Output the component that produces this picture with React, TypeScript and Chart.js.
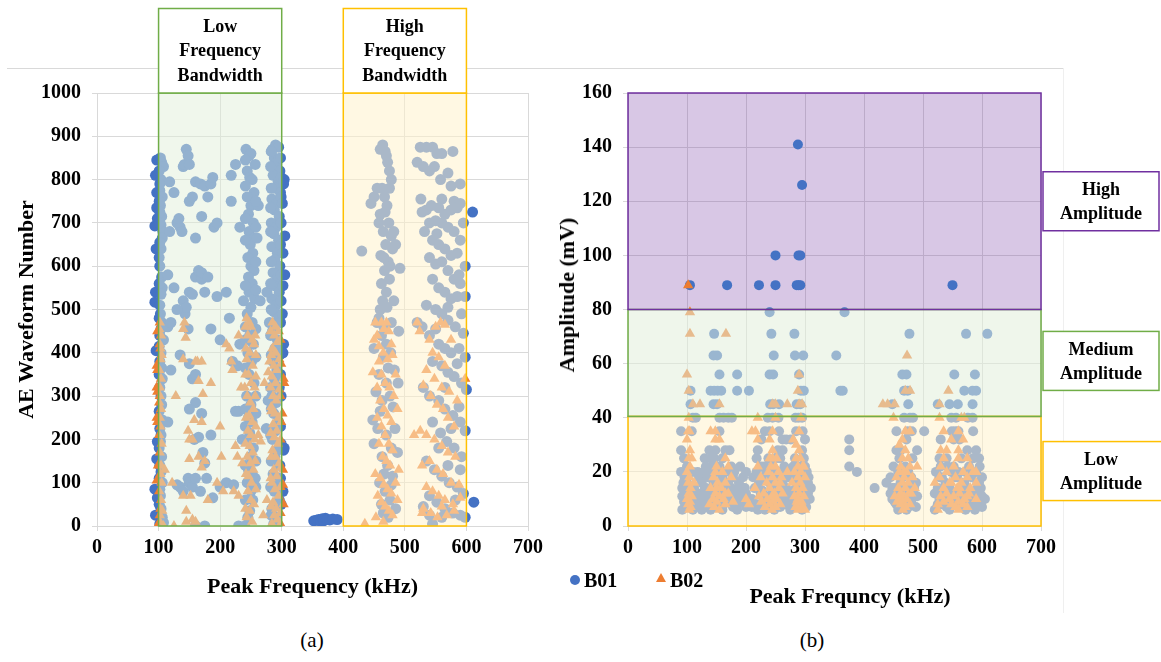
import React, { useEffect, useRef } from "react";
import { Chart, registerables } from "chart.js";

Chart.register(...registerables);

const SERIF = "'Liberation Serif', 'Times New Roman', Times, serif";

// ---------------- Chart (a): AE waveform number vs peak frequency ----------------
const b01A: [number, number][] = [
  // ~100 kHz column
  [95, 810], [94, 693], [96, 640], [95, 540], [94, 517], [94, 85], [95, 25], [97, 845], [97, 770], [97, 735], [98, 710], [96, 405], [97, 155], [98, 195], [98, 65],
  [103, 850], [105, 840], [108, 830], [104, 800], [102, 775], [106, 760], [103, 740], [105, 715], [104, 695], [107, 680], [106, 665], [104, 640], [105, 575], [106, 550],
  [104, 535], [103, 490], [105, 470], [104, 455], [108, 430], [104, 400], [105, 365], [106, 340], [104, 300], [105, 280], [106, 245], [104, 210], [103, 195], [105, 160],
  [104, 125], [106, 100], [103, 70], [104, 40], [106, 20], [108, 8],
  [101, 820], [102, 790], [101, 750], [102, 725], [101, 700], [102, 655], [101, 620], [102, 600], [101, 560], [102, 510], [101, 480], [102, 440], [101, 415], [102, 380],
  [101, 350], [102, 320], [101, 265], [102, 225], [101, 180], [102, 140], [101, 110], [102, 85], [101, 50], [102, 5],
  // scattered 110-235 kHz
  [118, 795], [125, 770], [130, 700], [135, 690], [133, 710], [138, 680], [140, 830], [142, 835], [145, 870], [148, 855], [150, 835], [150, 750], [155, 760], [160, 665],
  [160, 795], [168, 790], [170, 715], [175, 785], [180, 760], [185, 790], [188, 805], [190, 690], [195, 700], [218, 750], [225, 835], [232, 690], [218, 810],
  [115, 460], [118, 680], [120, 470], [115, 580], [125, 550], [140, 520], [143, 490], [145, 505], [150, 540], [155, 535], [160, 575], [165, 590], [170, 570], [170, 585],
  [175, 540], [180, 575], [185, 455], [195, 530], [200, 430], [210, 540], [220, 380], [228, 370], [230, 265], [225, 265], [232, 420], [215, 480],
  [130, 95], [135, 90], [140, 80], [148, 110], [150, 100], [155, 90], [160, 110], [168, 80], [172, 170], [175, 145], [178, 110], [185, 210], [188, 65], [200, 90],
  [210, 100], [222, 95], [230, 0], [240, 0], [155, 340], [160, 350], [160, 285], [150, 270], [170, 260], [158, 200], [165, 205], [150, 375], [148, 455], [120, 360],
  [115, 240], [130, 500], [160, 0], [175, 0], [135, 395],
  // 240-265 kHz column
  [242, 870], [247, 855], [250, 860], [244, 820], [248, 805], [252, 800], [255, 770], [244, 760], [250, 740], [246, 720], [254, 700], [247, 680], [256, 665], [249, 650],
  [253, 630], [245, 620], [250, 600], [255, 590], [246, 575], [252, 560], [247, 540], [256, 525], [250, 505], [244, 490], [252, 470], [248, 440], [254, 420], [245, 400],
  [251, 380], [247, 350], [255, 330], [243, 300], [250, 280], [246, 250], [252, 240], [248, 215], [244, 200], [254, 180], [249, 160], [246, 130], [252, 120], [257, 110],
  [244, 100], [250, 80], [253, 60], [248, 35], [245, 20], [262, 740], [260, 665], [265, 520], [238, 520], [236, 200],
  [241, 845], [257, 835], [241, 785], [258, 750], [241, 710], [258, 690], [241, 660], [258, 610], [241, 555], [258, 545], [241, 460], [258, 455], [241, 430], [258, 390],
  [241, 365], [258, 300], [241, 270], [258, 260], [241, 230], [258, 150], [241, 140], [258, 90], [241, 60],
  // 280-300 kHz column
  [285, 870], [290, 880], [295, 875], [288, 850], [292, 840], [297, 820], [286, 810], [294, 795], [290, 780], [298, 770], [284, 755], [292, 745], [288, 730], [296, 715],
  [283, 700], [291, 690], [287, 675], [295, 660], [284, 645], [293, 630], [289, 615], [297, 600], [286, 585], [292, 570], [288, 555], [296, 540], [284, 525], [291, 510],
  [287, 495], [295, 480], [290, 465], [285, 450], [293, 430], [289, 410], [297, 395], [286, 380], [292, 360], [288, 340], [296, 320], [284, 300], [291, 285], [287, 260],
  [295, 240], [290, 220], [285, 200], [293, 175], [289, 160], [297, 140], [286, 120], [292, 100], [288, 80], [296, 60], [284, 40], [291, 20], [287, 5], [280, 470],
  [278, 290], [276, 540], [275, 225],
  [283, 865], [298, 850], [282, 830], [299, 805], [283, 780], [299, 760], [282, 735], [299, 700], [282, 680], [298, 650], [283, 610], [299, 580], [282, 560], [299, 520],
  [283, 500], [298, 470], [282, 440], [299, 420], [283, 395], [298, 350], [282, 320], [299, 300], [283, 270], [298, 230], [282, 210], [299, 190], [283, 150], [298, 110],
  [282, 90], [299, 50], [283, 25],
  [304, 800], [303, 790], [305, 670], [305, 580], [302, 555], [303, 420], [302, 400], [304, 180], [303, 175], [302, 80], [301, 745], [302, 630], [301, 490],
  // 350-390 kHz cluster
  [352, 12], [356, 13], [360, 15], [363, 11], [366, 17], [368, 12], [371, 18], [374, 15], [378, 14], [383, 16], [390, 15],
  // 440-490 kHz column
  [430, 635], [445, 745], [450, 760], [455, 780], [458, 700], [460, 870], [464, 880], [468, 865], [470, 855], [472, 840], [475, 820], [478, 800], [463, 780], [467, 760],
  [471, 740], [460, 720], [474, 700], [465, 680], [478, 670], [482, 680], [469, 650], [485, 650], [461, 625], [473, 610], [467, 590], [476, 600], [462, 560], [470, 540],
  [464, 520], [471, 505], [458, 480], [455, 470], [478, 470], [490, 450], [462, 440], [470, 420], [477, 400], [450, 410], [465, 390], [483, 360], [458, 350], [470, 330],
  [476, 300], [489, 330], [453, 310], [463, 290], [481, 275], [448, 245], [456, 225], [470, 210], [478, 180], [488, 170], [450, 190], [463, 160], [472, 140], [480, 115],
  [459, 100], [468, 80], [476, 60], [485, 40], [465, 30], [473, 20], [492, 595],
  [475, 780], [468, 725], [480, 640], [466, 620], [475, 570], [460, 500], [482, 520], [466, 460], [473, 365], [460, 265], [484, 225], [466, 120], [478, 95], [462, 50],
  // 520-600 kHz column
  [525, 875], [535, 875], [545, 875], [552, 860], [560, 860], [578, 865], [520, 840], [530, 830], [540, 820], [548, 830], [558, 800], [570, 815], [575, 785], [580, 750],
  [590, 745], [526, 755], [535, 730], [543, 740], [555, 735], [565, 720], [575, 730], [585, 735], [528, 725], [540, 700], [550, 705], [560, 700], [570, 690], [580, 680],
  [590, 660], [532, 680], [545, 660], [555, 650], [565, 640], [575, 625], [585, 630], [540, 620], [550, 605], [560, 610], [570, 590], [580, 570], [590, 560], [545, 570],
  [555, 550], [565, 540], [575, 525], [585, 530], [598, 530], [535, 510], [550, 500], [560, 490], [570, 475], [582, 460], [595, 445], [520, 470], [528, 460], [540, 440],
  [555, 420], [565, 410], [575, 400], [588, 410], [598, 390], [545, 380], [560, 370], [570, 355], [580, 345], [592, 330], [600, 315], [530, 320], [540, 300], [555, 290],
  [565, 270], [578, 255], [590, 240], [598, 220], [545, 240], [558, 215], [568, 195], [580, 180], [592, 160], [535, 150], [548, 130], [560, 115], [572, 100], [585, 90],
  [595, 75], [540, 70], [552, 55], [565, 40], [578, 30], [590, 25], [598, 20], [530, 45], [545, 5], [560, 20],
  [590, 790], [560, 755], [595, 700], [552, 675], [598, 600], [588, 580], [570, 505], [592, 490], [550, 455], [585, 375], [565, 320], [588, 275], [575, 225], [555, 180],
  [590, 130], [570, 140], [582, 60], [540, 25],
  [610, 725], [612, 55],
];

const b02A: [number, number][] = [
  [98, 450], [97, 370], [98, 360], [97, 320], [98, 310], [97, 250], [98, 240], [97, 105], [98, 0], [99, 140],
  [102, 470], [104, 440], [103, 410], [105, 395], [103, 385], [104, 340], [102, 300], [104, 270], [103, 230], [105, 190], [104, 140], [103, 120], [105, 100], [104, 60],
  [103, 40], [102, 10], [108, 0], [110, 130], [106, 35],
  [101, 455], [102, 420], [101, 360], [102, 320], [101, 285], [102, 250], [101, 210], [102, 170], [101, 80], [102, 25],
  [122, 100], [125, 0], [128, 300], [140, 385], [140, 455], [142, 470], [144, 435], [148, 220], [150, 200], [150, 155], [152, 70], [155, 200], [158, 245], [160, 380],
  [163, 380], [165, 335], [170, 380], [172, 305], [170, 240], [165, 160], [170, 135], [160, 10], [155, 15], [145, 35], [145, 10], [140, 70], [175, 150], [180, 60],
  [185, 330], [195, 100], [200, 230], [202, 160], [205, 80], [210, 420], [215, 410], [218, 380], [220, 360], [225, 185], [228, 160], [222, 80], [230, 440], [234, 320],
  [236, 145], [230, 70],
  [243, 480], [247, 470], [250, 460], [245, 440], [252, 430], [255, 420], [248, 400], [243, 385], [253, 370], [246, 350], [250, 330], [256, 320], [244, 300], [249, 285],
  [254, 270], [247, 255], [252, 240], [245, 220], [250, 210], [256, 200], [248, 185], [253, 170], [244, 160], [249, 145], [254, 130], [246, 115], [251, 100], [245, 80],
  [250, 60], [255, 50], [248, 35], [243, 20], [252, 10], [258, 345], [262, 210], [266, 195], [270, 25], [240, 320],
  [241, 460], [257, 440], [242, 410], [258, 395], [241, 350], [257, 300], [242, 250], [258, 230], [241, 190], [257, 150], [242, 120], [258, 85], [241, 40],
  [285, 470], [290, 460], [295, 450], [288, 440], [293, 425], [285, 410], [290, 400], [296, 385], [287, 370], [292, 360], [284, 345], [290, 330], [296, 315], [286, 300],
  [291, 290], [283, 275], [289, 260], [295, 250], [286, 235], [292, 220], [288, 205], [294, 190], [285, 175], [290, 160], [296, 145], [287, 130], [292, 115], [284, 100],
  [289, 85], [295, 70], [286, 55], [291, 40], [288, 25], [293, 15], [284, 5], [280, 380], [278, 355], [276, 60], [272, 330], [298, 5],
  [282, 450], [298, 430], [283, 395], [299, 375], [282, 320], [298, 300], [283, 265], [299, 240], [282, 215], [298, 200], [283, 160], [299, 135], [282, 110], [298, 90],
  [283, 45], [298, 30],
  [303, 340], [304, 330], [302, 95], [303, 50], [301, 260], [302, 130],
  [435, 5], [448, 355], [450, 430], [452, 470], [455, 440], [458, 415], [462, 470], [466, 455], [470, 470], [474, 450], [478, 420], [465, 400], [472, 385], [480, 395],
  [485, 350], [458, 380], [462, 350], [468, 330], [475, 320], [482, 300], [488, 270], [455, 320], [460, 290], [466, 270], [472, 255], [478, 240], [455, 250], [462, 230],
  [468, 210], [474, 190], [480, 175], [458, 190], [464, 160], [470, 150], [476, 140], [452, 120], [460, 110], [466, 95], [472, 85], [478, 75], [485, 100], [490, 130],
  [456, 70], [462, 55], [468, 45], [474, 35], [480, 25], [453, 20], [465, 10], [488, 60],
  [520, 470], [524, 450], [540, 430], [550, 460], [558, 470], [565, 465], [575, 430], [545, 400], [555, 390], [565, 370], [535, 360], [548, 340], [560, 320], [572, 310],
  [585, 290], [530, 325], [542, 300], [552, 280], [562, 270], [570, 250], [580, 230], [598, 340], [515, 210], [525, 220], [535, 210], [548, 200], [560, 185], [570, 170],
  [582, 160], [528, 140], [540, 150], [552, 130], [562, 120], [575, 100], [588, 95], [535, 90], [545, 80], [555, 70], [565, 60], [578, 50], [590, 65], [530, 40],
  [542, 30], [553, 20], [568, 25], [580, 35], [528, 30], [560, 45],
];

const freqBands = [
  { range: [100, 300], label: ["Low", "Frequency", "Bandwidth"], fill: "rgba(226,239,218,0.5)", stroke: "#70AD47" },
  { range: [400, 600], label: ["High", "Frequency", "Bandwidth"], fill: "rgba(255,242,204,0.55)", stroke: "#FFC000" },
];

// ---------------- Chart (b): amplitude vs peak frequency ----------------
const b01B: [number, number][] = [
  [105, 89], [168, 89], [222, 89], [250, 89], [250, 100], [286, 89], [289, 89], [292, 89], [289, 100], [292, 100], [295, 126], [288, 141], [550, 89],
  [240, 79], [367, 79],
  [146, 71], [243, 71], [282, 71], [477, 71], [573, 71], [609, 71],
  [145, 63], [151, 63], [247, 63], [283, 63], [297, 63], [353, 63],
  [155, 56], [185, 56], [240, 56], [246, 56], [290, 56], [465, 56], [472, 56], [553, 56], [588, 56],
  [106, 50], [140, 50], [146, 50], [152, 50], [158, 50], [185, 50], [205, 50], [293, 50], [298, 50], [360, 50], [364, 50], [468, 50], [474, 50], [570, 50], [584, 50], [590, 50],
  [106, 45], [145, 45], [151, 45], [241, 45], [246, 45], [256, 45], [286, 45], [292, 45], [448, 45], [475, 45], [525, 45], [545, 45], [559, 45], [584, 45],
  [110, 40], [115, 40], [155, 40], [162, 40], [170, 40], [176, 40], [237, 40], [245, 40], [255, 40], [284, 40], [289, 40], [295, 40], [468, 40], [478, 40], [483, 40],
  [548, 40], [556, 40], [576, 40], [584, 40],
  [90, 35], [108, 35], [155, 35], [232, 35], [240, 35], [256, 35], [285, 35], [296, 35], [455, 35], [474, 35], [481, 35], [502, 35], [549, 35], [555, 35], [585, 35], [560, 35],
  [226, 32], [262, 32], [268, 32], [276, 32], [375, 32], [472, 32], [530, 32], [552, 32], [562, 32], [300, 32],
  [90, 28], [138, 28], [165, 28], [172, 28], [220, 28], [254, 28], [262, 28], [375, 28], [455, 28], [462, 28], [490, 28], [575, 28], [590, 28], [295, 28], [148, 28],
  [95, 25], [130, 25], [140, 25], [146, 25], [160, 25], [218, 25], [238, 25], [250, 25], [258, 25], [283, 25], [298, 25], [460, 25], [482, 25], [528, 25], [540, 25],
  [565, 25], [585, 25], [595, 25],
  [100, 22], [132, 22], [142, 22], [155, 22], [175, 22], [190, 22], [226, 22], [245, 22], [265, 22], [280, 22], [300, 22], [375, 22], [450, 22], [470, 22], [530, 22],
  [552, 22], [578, 22], [596, 22],
  [90, 20], [110, 20], [128, 20], [138, 20], [150, 20], [165, 20], [180, 20], [200, 20], [218, 20], [235, 20], [250, 20], [270, 20], [288, 20], [303, 20], [388, 20],
  [458, 20], [475, 20], [522, 20], [548, 20], [560, 20], [590, 20],
  [96, 18], [120, 18], [135, 18], [160, 18], [178, 18], [195, 18], [230, 18], [255, 18], [272, 18], [295, 18], [445, 18], [480, 18], [532, 18], [555, 18], [582, 18], [600, 18],
  [100, 16], [125, 16], [145, 16], [170, 16], [188, 16], [222, 16], [240, 16], [262, 16], [285, 16], [305, 16], [438, 16], [462, 16], [488, 16], [538, 16], [570, 16], [592, 16],
  [92, 14], [112, 14], [132, 14], [152, 14], [175, 14], [195, 14], [215, 14], [248, 14], [268, 14], [290, 14], [310, 14], [418, 14], [452, 14], [472, 14], [525, 14],
  [545, 14], [575, 14], [598, 14],
  [105, 13], [140, 13], [165, 13], [185, 13], [228, 13], [258, 13], [280, 13], [300, 13], [466, 13], [535, 13], [565, 13], [588, 13],
  [97, 12], [118, 12], [138, 12], [158, 12], [180, 12], [200, 12], [225, 12], [245, 12], [265, 12], [285, 12], [305, 12], [445, 12], [478, 12], [520, 12], [550, 12],
  [580, 12], [596, 12],
  [92, 11], [125, 11], [148, 11], [172, 11], [192, 11], [235, 11], [255, 11], [275, 11], [295, 11], [458, 11], [490, 11], [540, 11], [568, 11], [600, 11],
  [100, 10], [115, 10], [135, 10], [155, 10], [175, 10], [210, 10], [240, 10], [262, 10], [285, 10], [308, 10], [448, 10], [470, 10], [528, 10], [555, 10], [585, 10], [605, 10],
  [95, 9], [128, 9], [150, 9], [168, 9], [190, 9], [230, 9], [252, 9], [272, 9], [298, 9], [462, 9], [480, 9], [535, 9], [562, 9], [592, 9],
  [105, 8], [120, 8], [142, 8], [162, 8], [185, 8], [220, 8], [245, 8], [268, 8], [290, 8], [455, 8], [476, 8], [525, 8], [548, 8], [575, 8], [598, 8],
  [98, 7], [132, 7], [155, 7], [178, 7], [200, 7], [238, 7], [258, 7], [282, 7], [302, 7], [465, 7], [488, 7], [540, 7], [565, 7], [590, 7],
  [92, 6], [110, 6], [140, 6], [160, 6], [185, 6], [220, 6], [248, 6], [275, 6], [295, 6], [458, 6], [472, 6], [520, 6], [545, 6], [572, 6], [588, 6],
  [94, 16], [118, 20], [130, 14], [145, 12], [162, 16], [182, 10], [198, 14], [212, 18], [232, 22], [242, 18], [258, 20], [278, 18], [292, 22], [306, 18], [448, 14],
  [465, 18], [485, 14], [528, 18], [542, 22], [558, 18], [572, 20], [595, 16],
  [100, 8], [125, 6], [150, 7], [170, 9], [210, 7], [232, 6], [255, 8], [280, 10], [300, 8], [452, 9], [475, 7], [532, 8], [558, 10], [580, 9], [600, 7],
];

const b02B: [number, number][] = [
  [102, 89], [105, 79], [105, 71], [166, 71], [100, 56], [290, 56], [473, 63],
  [103, 50], [288, 50], [470, 50], [478, 50], [543, 50],
  [110, 45], [122, 45], [155, 45], [245, 45], [250, 45], [270, 45], [290, 45], [295, 45], [432, 45], [440, 45], [452, 45], [528, 45],
  [103, 40], [220, 40], [250, 40], [293, 40], [450, 40], [528, 40], [565, 40], [570, 40],
  [102, 35], [104, 35], [140, 35], [148, 35], [210, 35], [216, 35], [245, 35], [290, 35], [470, 35], [478, 35], [535, 35], [560, 35],
  [100, 32], [148, 32], [155, 32], [220, 32], [240, 32], [280, 32], [465, 32], [548, 32], [568, 32],
  [105, 28], [245, 28], [290, 28], [470, 28], [560, 28], [540, 28],
  [103, 25], [165, 25], [245, 25], [252, 25], [285, 25], [292, 25], [465, 25], [475, 25], [535, 25], [560, 25], [575, 25],
  [105, 22], [150, 22], [170, 22], [220, 22], [242, 22], [250, 22], [288, 22], [296, 22], [462, 22], [478, 22], [490, 22], [530, 22], [552, 22], [580, 22],
  [100, 20], [148, 20], [160, 20], [238, 20], [255, 20], [282, 20], [293, 20], [460, 20], [472, 20], [540, 20], [568, 20], [585, 20],
  [104, 18], [145, 18], [175, 18], [225, 18], [245, 18], [260, 18], [288, 18], [300, 18], [455, 18], [468, 18], [482, 18], [528, 18], [555, 18], [575, 18],
  [102, 16], [152, 16], [165, 16], [235, 16], [250, 16], [278, 16], [292, 16], [465, 16], [475, 16], [520, 16], [545, 16], [565, 16], [590, 16],
  [106, 14], [140, 14], [158, 14], [215, 14], [240, 14], [256, 14], [285, 14], [296, 14], [458, 14], [470, 14], [486, 14], [535, 14], [558, 14], [580, 14],
  [103, 12], [148, 12], [170, 12], [230, 12], [248, 12], [262, 12], [290, 12], [462, 12], [476, 12], [540, 12], [562, 12],
  [108, 11], [155, 11], [222, 11], [244, 11], [282, 11], [298, 11], [452, 11], [468, 11], [530, 11], [552, 11], [575, 11],
  [100, 10], [144, 10], [162, 10], [200, 10], [236, 10], [252, 10], [288, 10], [460, 10], [472, 10], [545, 10], [570, 10], [590, 10],
  [105, 9], [150, 9], [178, 9], [226, 9], [246, 9], [286, 9], [294, 9], [456, 9], [466, 9], [535, 9], [560, 9],
  [102, 8], [138, 8], [165, 8], [205, 8], [240, 8], [258, 8], [290, 8], [462, 8], [478, 8], [548, 8], [568, 8], [525, 8],
  [106, 7], [146, 7], [232, 7], [250, 7], [284, 7], [296, 7], [470, 7], [555, 7], [575, 7],
  [104, 6], [155, 6], [244, 6], [288, 6], [300, 6], [466, 6], [525, 6], [560, 6],
  [108, 25], [112, 16], [150, 14], [165, 12], [240, 25], [258, 16], [270, 20], [285, 30], [298, 22], [460, 30], [468, 20], [480, 12], [530, 28], [548, 16], [562, 14],
  [578, 12], [590, 20],
];

const ampZones = [
  { range: [80, 160], label: ["High", "Amplitude"], labelAt: 120, fill: "rgba(112,48,160,0.27)", stroke: "#7030A0", behind: true },
  { range: [40.5, 80], label: ["Medium", "Amplitude"], labelAt: 61, fill: "rgba(226,239,218,0.55)", stroke: "#70AD47", behind: false },
  { range: [0, 40.5], label: ["Low", "Amplitude"], labelAt: 20.3, fill: "rgba(255,242,204,0.55)", stroke: "#FFC000", behind: false },
];

const BLUE = "#4472C4";
const ORANGE = "#ED7D31";
const GRID = "#D9D9D9";

const toXY = (arr: [number, number][]) => arr.map(([x, y]) => ({ x, y }));

const tickFont = { family: SERIF, size: 20, weight: "bold" as const };

function axis(min: number, max: number, step: number, extra: any) {
  return {
    type: "linear",
    min,
    max,
    ticks: { stepSize: step, color: "#000", font: tickFont, callback: (v: any) => String(v), ...(extra.ticks || {}) },
    grid: { color: GRID, tickLength: 5, lineWidth: 1 },
    border: { color: GRID },
    ...extra.rest,
  };
}

const bandPlugin = {
  id: "bandPlugin",
  afterDatasetsDraw(chart: any) {
    const { ctx, scales } = chart;
    const x = scales.x, y = scales.y;
    const yTop = y.getPixelForValue(1000);
    const yBot = y.getPixelForValue(0);
    ctx.save();
    freqBands.forEach((b) => {
      const x1 = x.getPixelForValue(b.range[0]);
      const x2 = x.getPixelForValue(b.range[1]);
      ctx.fillStyle = b.fill;
      ctx.fillRect(x1, yTop, x2 - x1, yBot - yTop);
      ctx.strokeStyle = b.stroke;
      ctx.lineWidth = 1.5;
      ctx.strokeRect(x1, yTop, x2 - x1, yBot - yTop);
      const boxTop = 8.5;
      ctx.fillStyle = "#fff";
      ctx.fillRect(x1, boxTop, x2 - x1, yTop - boxTop);
      ctx.strokeRect(x1, boxTop, x2 - x1, yTop - boxTop);
      ctx.fillStyle = "#000";
      ctx.font = `bold 18px ${SERIF}`;
      ctx.textAlign = "center";
      ctx.textBaseline = "middle";
      const cx = (x1 + x2) / 2;
      const cy = (boxTop + yTop) / 2;
      b.label.forEach((t, j) => ctx.fillText(t, cx, cy + (j - 1) * 24.5 + 1));
    });
    ctx.restore();
  },
};

const zonePlugin = {
  id: "zonePlugin",
  beforeDatasetsDraw(chart: any) {
    const { ctx, scales } = chart;
    const x = scales.x, y = scales.y;
    const x1 = x.getPixelForValue(0), x2 = x.getPixelForValue(700);
    ctx.save();
    ampZones.filter((z) => z.behind).forEach((z) => {
      const yt = y.getPixelForValue(z.range[1]);
      const yb = y.getPixelForValue(z.range[0]);
      ctx.fillStyle = z.fill;
      ctx.fillRect(x1, yt, x2 - x1, yb - yt);
    });
    ctx.restore();
  },
  afterDatasetsDraw(chart: any) {
    const { ctx, scales, width } = chart;
    const x = scales.x, y = scales.y;
    const x1 = x.getPixelForValue(0), x2 = x.getPixelForValue(700);
    ctx.save();
    ampZones.filter((z) => !z.behind).forEach((z) => {
      const yt = y.getPixelForValue(z.range[1]);
      const yb = y.getPixelForValue(z.range[0]);
      ctx.fillStyle = z.fill;
      ctx.fillRect(x1, yt, x2 - x1, yb - yt);
    });
    ctx.lineWidth = 1.5;
    [...ampZones].reverse().forEach((z) => {
      const yt = y.getPixelForValue(z.range[1]);
      const yb = y.getPixelForValue(z.range[0]);
      ctx.strokeStyle = z.stroke;
      ctx.strokeRect(x1, yt, x2 - x1, yb - yt);
    });
    ampZones.forEach((z, i) => {
      const cy = y.getPixelForValue(z.labelAt);
      const h = 59;
      const bx = x2 + 2;
      const bw = i === 2 ? width - bx + 5 : 116;
      ctx.fillStyle = "#fff";
      ctx.fillRect(bx, cy - h / 2, bw, h);
      ctx.strokeStyle = z.stroke;
      ctx.strokeRect(bx, cy - h / 2, bw, h);
      ctx.fillStyle = "#000";
      ctx.font = `bold 18px ${SERIF}`;
      ctx.textAlign = "center";
      ctx.textBaseline = "middle";
      const tx = bx + 58;
      z.label.forEach((t, j) => ctx.fillText(t, tx, cy + (j - 0.5) * 24 + 1));
    });
    ctx.restore();
  },
};

export default function App() {
  const refA = useRef<HTMLCanvasElement | null>(null);
  const refB = useRef<HTMLCanvasElement | null>(null);

  useEffect(() => {
    Chart.defaults.font.family = SERIF;
    const common = {
      animation: false,
      responsive: false,
      devicePixelRatio: 1,
      plugins: { legend: { display: false }, tooltip: { enabled: false } },
    };
    const chartA = new Chart(refA.current as HTMLCanvasElement, {
      type: "scatter",
      data: {
        datasets: [
          { label: "B01", data: toXY(b01A), pointStyle: "circle", pointRadius: 5.5, backgroundColor: BLUE, borderWidth: 0, order: 1 },
          { label: "B02", data: toXY(b02A), pointStyle: "triangle", pointRadius: 6, backgroundColor: ORANGE, borderWidth: 0, order: 0 },
        ],
      },
      options: {
        ...common,
        layout: { padding: { top: 93, right: 32, left: 0, bottom: 0 } },
        scales: {
          x: axis(0, 700, 100, {
            ticks: { padding: 5 },
            rest: {
              title: { display: true, text: "Peak Frequency (kHz)", color: "#000", font: { family: SERIF, size: 22, weight: "bold" }, padding: { top: 0, bottom: 19 } },
              afterFit: (s: any) => { s.height = 94; },
            },
          }),
          y: axis(0, 1000, 100, {
            ticks: { padding: 11 },
            rest: {
              title: { display: true, text: "AE Waveform Number", color: "#000", font: { family: SERIF, size: 22, weight: "bold" }, padding: { top: 14, bottom: 0 } },
              afterFit: (s: any) => { s.width = 97; },
            },
          }),
        },
      } as any,
      plugins: [bandPlugin],
    } as any);

    const chartB = new Chart(refB.current as HTMLCanvasElement, {
      type: "scatter",
      data: {
        datasets: [
          { label: "B01", data: toXY(b01B), pointStyle: "circle", pointRadius: 5, backgroundColor: BLUE, borderWidth: 0, order: 1 },
          { label: "B02", data: toXY(b02B), pointStyle: "triangle", pointRadius: 6, backgroundColor: ORANGE, borderWidth: 0, order: 0 },
        ],
      },
      options: {
        ...common,
        layout: { padding: { top: 93, right: 120, left: 0, bottom: 0 } },
        scales: {
          x: axis(0, 700, 100, {
            ticks: { padding: 5 },
            rest: { afterFit: (s: any) => { s.height = 94; } },
          }),
          y: axis(0, 160, 20, {
            ticks: { padding: 11 },
            rest: { afterFit: (s: any) => { s.width = 88; } },
          }),
        },
      } as any,
      plugins: [zonePlugin],
    } as any);

    return () => {
      chartA.destroy();
      chartB.destroy();
    };
  }, []);

  const bold = { fontFamily: SERIF, fontWeight: "bold" as const, color: "#000", position: "absolute" as const, whiteSpace: "nowrap" as const, lineHeight: 1 };

  return (
    <div style={{ position: "absolute", left: 0, top: 0, width: 1161, height: 662, overflow: "hidden", background: "#fff" }}>
      <div style={{ position: "absolute", left: 7, top: 68, width: 1056, height: 1, background: GRID }} />
      <div style={{ position: "absolute", left: 1063, top: 68, width: 1, height: 545, background: "#EFEFEF" }} />
      <canvas ref={refA} width={560} height={620} style={{ position: "absolute", left: 0, top: 0, width: 560, height: 620 }} />
      <canvas ref={refB} width={621} height={620} style={{ position: "absolute", left: 540, top: 0, width: 621, height: 620 }} />
      <div style={{ ...bold, fontSize: 22, left: 567, top: 295, transform: "translate(-50%, -50%) rotate(-90deg)" }}>Amplitude (mV)</div>
      <div style={{ ...bold, fontSize: 22, left: 850, top: 596, transform: "translate(-50%, -50%)" }}>Peak Frequncy (kHz)</div>
      <div style={{ position: "absolute", left: 570, top: 575, width: 10, height: 10, borderRadius: 5, background: BLUE }} />
      <div style={{ ...bold, fontSize: 20, left: 584, top: 580, transform: "translateY(-50%)" }}>B01</div>
      <div style={{ position: "absolute", left: 656, top: 573, width: 0, height: 0, borderLeft: "5px solid transparent", borderRight: "5px solid transparent", borderBottom: "9px solid " + ORANGE }} />
      <div style={{ ...bold, fontSize: 20, left: 670, top: 580, transform: "translateY(-50%)" }}>B02</div>
      <div style={{ ...bold, fontWeight: "normal", fontSize: 21, left: 312, top: 640, transform: "translate(-50%, -50%)" }}>(a)</div>
      <div style={{ ...bold, fontWeight: "normal", fontSize: 21, left: 812, top: 640, transform: "translate(-50%, -50%)" }}>(b)</div>
    </div>
  );
}
